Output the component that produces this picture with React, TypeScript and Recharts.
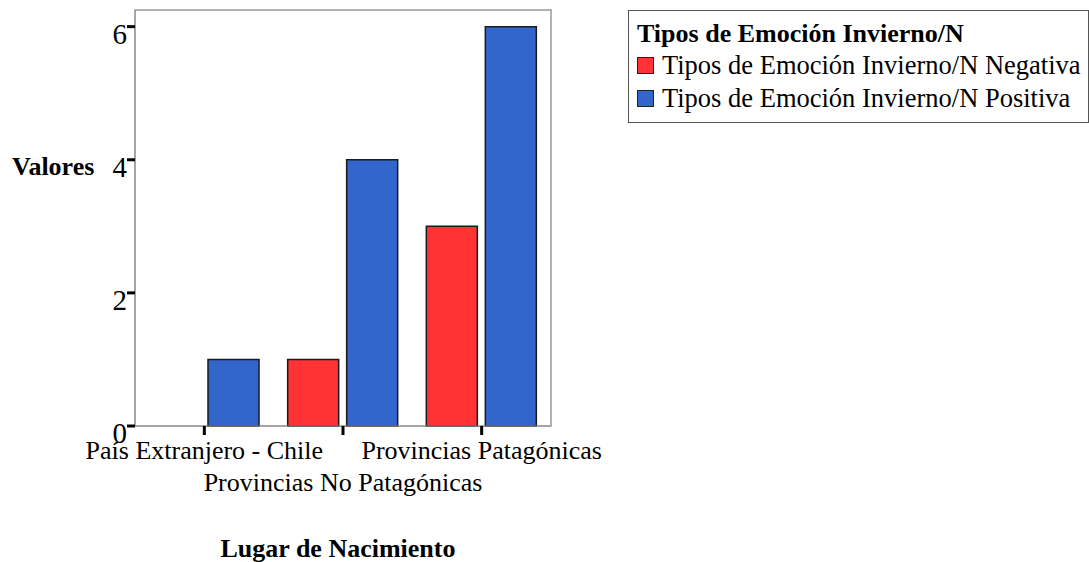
import React from "react";
import { BarChart, Bar, XAxis, YAxis, Legend, Label, ReferenceArea } from "recharts";

// Lugar de Nacimiento x Tipos de Emoción Invierno/N
const lugares = ["País Extranjero - Chile", "Provincias No Patagónicas", "Provincias Patagónicas"];
const negativa = [null, 1, 3];
const positiva = [1, 4, 6];
const yTicks = [0, 2, 4, 6];

const data = lugares.map((name, i) => ({ name, negativa: negativa[i], positiva: positiva[i] }));

const SERIF = "'Liberation Serif', 'Times New Roman', serif";

const YTick = (props: any) => {
  const { x, y, payload } = props;
  return (
    <text x={x + 2} y={y + 17} textAnchor="end" fontFamily={SERIF} fontSize={29} fill="#000">
      {payload.value}
    </text>
  );
};

const XTick = (props: any) => {
  const { x, y, payload, index } = props;
  const dy = index % 2 === 1 ? 54 : 22;
  return (
    <text x={x} y={y + dy} textAnchor="middle" fontFamily={SERIF} fontSize={26} fill="#000">
      {payload.value}
    </text>
  );
};

const LegendBox = (props: any) => {
  const { payload } = props;
  return (
    <div
      style={{
        boxSizing: "border-box",
        width: 461,
        height: 113,
        border: "1.5px solid #555",
        background: "#fff",
        padding: "8px 0 0 8px",
        fontFamily: SERIF,
        color: "#000",
      }}
    >
      <div style={{ fontWeight: "bold", fontSize: 26, lineHeight: "30px" }}>Tipos de Emoción Invierno/N</div>
      {(payload || []).map((p: any) => (
        <div key={p.value} style={{ display: "flex", alignItems: "center", fontSize: 26.5, lineHeight: "33px" }}>
          <span
            style={{
              display: "inline-block",
              boxSizing: "border-box",
              width: 17,
              height: 17,
              background: p.color,
              border: "1.5px solid #222",
              marginRight: 8,
            }}
          />
          <span>{p.value}</span>
        </div>
      ))}
    </div>
  );
};

export default function App() {
  return (
    <div style={{ position: "absolute", left: 0, top: 0, width: 1089, height: 562, background: "#fff" }}>
      <BarChart
        width={1089}
        height={562}
        data={data}
        margin={{ top: 10, right: 538, bottom: 0, left: 75 }}
        barSize={51}
        barGap={8}
      >
        <ReferenceArea y1={0} y2={6.25} fill="none" stroke="#999" strokeWidth={1.5} ifOverflow="visible" />
        <XAxis
          dataKey="name"
          height={136}
          interval={0}
          axisLine={{ stroke: "#999" }}
          tickLine={{ stroke: "#000", strokeWidth: 3 }}
          tickSize={9}
          tick={<XTick />}
        >
          <Label
            content={(p: any) => (
              <text
                x={p.viewBox.x + p.viewBox.width / 2 - 5}
                y={p.viewBox.y + 131}
                textAnchor="middle"
                fontFamily={SERIF}
                fontWeight="bold"
                fontSize={26}
                fill="#000"
              >
                Lugar de Nacimiento
              </text>
            )}
          />
        </XAxis>
        <YAxis
          width={60}
          domain={[0, 6.25]}
          ticks={yTicks}
          allowDecimals={false}
          axisLine={{ stroke: "#999" }}
          tickLine={{ stroke: "#000", strokeWidth: 3 }}
          tickSize={8}
          tick={<YTick />}
        >
          <Label
            content={() => (
              <text x={12} y={175} fontFamily={SERIF} fontWeight="bold" fontSize={26} fill="#000">
                Valores
              </text>
            )}
          />
        </YAxis>
        <Legend
          layout="vertical"
          align="center"
          verticalAlign="middle"
          wrapperStyle={{ left: 628, top: 10, width: 461 }}
          content={<LegendBox />}
        />
        <Bar dataKey="negativa" name="Tipos de Emoción Invierno/N Negativa" fill="#FF3333" stroke="#1a1a1a" strokeWidth={1.5} isAnimationActive={false} />
        <Bar dataKey="positiva" name="Tipos de Emoción Invierno/N Positiva" fill="#3366CC" stroke="#1a1a1a" strokeWidth={1.5} isAnimationActive={false} />
      </BarChart>
    </div>
  );
}
